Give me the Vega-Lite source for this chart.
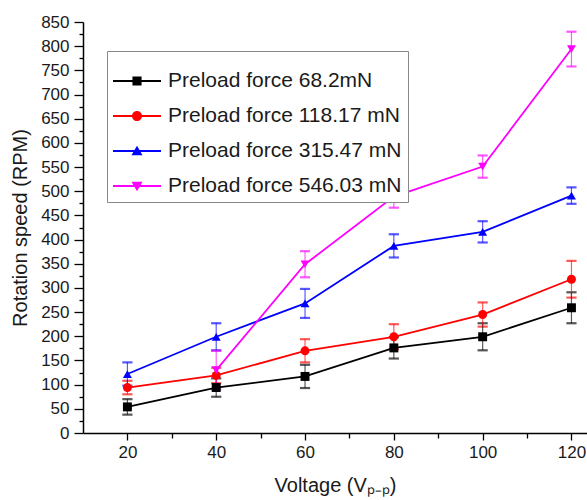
{
  "$schema": "https://vega.github.io/schema/vega-lite/v6.json",
  "autosize": {"type": "none"},
  "width": 504,
  "height": 411,
  "padding": {"left": 83, "top": 22, "right": 0, "bottom": 67},
  "background": "white",
  "config": {
    "font": "Liberation Sans",
    "view": {"stroke": null},
    "axis": {
      "domainColor": "#000000",
      "domainWidth": 1.5,
      "tickColor": "#000000",
      "tickWidth": 1.3,
      "grid": false,
      "labelFont": "Liberation Sans",
      "labelFontSize": 17,
      "labelColor": "#1a1a1a",
      "titleFont": "Liberation Sans",
      "titleFontSize": 20,
      "titleFontWeight": "normal",
      "titleColor": "#1a1a1a"
    }
  },
  "data": {
    "values": [
      {"voltage": 20, "force": "Preload force 68.2mN", "rpm": 54, "err": 16},
      {"voltage": 40, "force": "Preload force 68.2mN", "rpm": 94, "err": 19},
      {"voltage": 60, "force": "Preload force 68.2mN", "rpm": 117, "err": 24},
      {"voltage": 80, "force": "Preload force 68.2mN", "rpm": 176, "err": 22},
      {"voltage": 100, "force": "Preload force 68.2mN", "rpm": 199, "err": 28},
      {"voltage": 120, "force": "Preload force 68.2mN", "rpm": 259, "err": 32},
      {"voltage": 20, "force": "Preload force 118.17 mN", "rpm": 94, "err": 14},
      {"voltage": 40, "force": "Preload force 118.17 mN", "rpm": 119, "err": 16},
      {"voltage": 60, "force": "Preload force 118.17 mN", "rpm": 170, "err": 24},
      {"voltage": 80, "force": "Preload force 118.17 mN", "rpm": 199, "err": 26},
      {"voltage": 100, "force": "Preload force 118.17 mN", "rpm": 245, "err": 25},
      {"voltage": 120, "force": "Preload force 118.17 mN", "rpm": 318, "err": 38},
      {"voltage": 20, "force": "Preload force 315.47 mN", "rpm": 122, "err": 24},
      {"voltage": 40, "force": "Preload force 315.47 mN", "rpm": 199, "err": 28},
      {"voltage": 60, "force": "Preload force 315.47 mN", "rpm": 268, "err": 30},
      {"voltage": 80, "force": "Preload force 315.47 mN", "rpm": 387, "err": 24},
      {"voltage": 100, "force": "Preload force 315.47 mN", "rpm": 416, "err": 22},
      {"voltage": 120, "force": "Preload force 315.47 mN", "rpm": 491, "err": 17},
      {"voltage": 40, "force": "Preload force 546.03 mN", "rpm": 130, "err": 40},
      {"voltage": 60, "force": "Preload force 546.03 mN", "rpm": 349, "err": 27},
      {"voltage": 80, "force": "Preload force 546.03 mN", "rpm": 489, "err": 23},
      {"voltage": 100, "force": "Preload force 546.03 mN", "rpm": 551, "err": 23},
      {"voltage": 120, "force": "Preload force 546.03 mN", "rpm": 794, "err": 36}
    ]
  },
  "encoding": {
    "x": {
      "field": "voltage",
      "type": "quantitative",
      "scale": {"domain": [10, 123.5], "nice": false, "zero": false},
      "axis": {
        "title": "Voltage (Vₚ₋ₚ)",
        "values": [20, 30, 40, 50, 60, 70, 80, 90, 100, 110, 120],
        "labelExpr": "datum.value % 20 === 0 ? datum.label : ''",
        "tickSize": {"condition": {"test": "datum.value % 20 === 0", "value": 7}, "value": 5},
        "labelPadding": 4,
        "titlePadding": 15,
        "labelFlush": false
      }
    },
    "y": {
      "field": "rpm",
      "type": "quantitative",
      "scale": {"domain": [0, 850], "nice": false},
      "axis": {
        "title": "Rotation speed (RPM)",
        "values": [0, 25, 50, 75, 100, 125, 150, 175, 200, 225, 250, 275, 300, 325, 350, 375, 400, 425, 450, 475, 500, 525, 550, 575, 600, 625, 650, 675, 700, 725, 750, 775, 800, 825, 850],
        "labelExpr": "datum.value % 50 === 0 ? datum.label : ''",
        "tickSize": {"condition": {"test": "datum.value % 50 === 0", "value": 9}, "value": 4},
        "labelPadding": 5,
        "titlePadding": 10,
        "labelFlush": false
      }
    }
  },
  "layer": [
    {
      "mark": {
        "type": "errorbar",
        "ticks": {"size": 9, "opacity": 0.65, "strokeWidth": 1.2},
        "rule": {"opacity": 0.65, "strokeWidth": 1.2}
      },
      "encoding": {
        "yError": {"field": "err"},
        "stroke": {
          "field": "force",
          "type": "nominal",
          "scale": {
            "domain": ["Preload force 546.03 mN", "Preload force 315.47 mN", "Preload force 118.17 mN", "Preload force 68.2mN"],
            "range": ["#FF00FF", "#0000FF", "#FF0000", "#000000"]
          },
          "legend": null
        }
      }
    },
    {
      "mark": {"type": "line", "strokeWidth": 1.8},
      "encoding": {
        "stroke": {
          "field": "force",
          "type": "nominal",
          "scale": {
            "domain": ["Preload force 546.03 mN", "Preload force 315.47 mN", "Preload force 118.17 mN", "Preload force 68.2mN"],
            "range": ["#FF00FF", "#0000FF", "#FF0000", "#000000"]
          },
          "legend": null
        }
      }
    },
    {
      "mark": {"type": "point", "filled": true, "size": 80, "opacity": 1},
      "encoding": {
        "color": {
          "field": "force",
          "type": "nominal",
          "scale": {
            "domain": ["Preload force 68.2mN", "Preload force 118.17 mN", "Preload force 315.47 mN", "Preload force 546.03 mN"],
            "range": ["#000000", "#FF0000", "#0000FF", "#FF00FF"]
          },
          "legend": {
            "title": null,
            "orient": "none",
            "legendX": 24,
            "legendY": 29,
            "padding": 6,
            "strokeColor": "#888888",
            "fillColor": "white",
            "labelFont": "Liberation Sans",
            "labelFontSize": 21,
            "labelColor": "#1a1a1a",
            "labelLimit": 400,
            "symbolSize": 2304,
            "symbolStrokeWidth": 0,
            "symbolOpacity": 1,
            "labelOffset": 7,
            "rowPadding": 1,
            "encode": {
              "symbols": {
                "update": {
                  "shape": {"signal": "datum.value === 'Preload force 68.2mN' ? 'M-1,-0.04H1V0.04H-1Z M-0.19,-0.19H0.19V0.19H-0.19Z' : datum.value === 'Preload force 118.17 mN' ? 'M-1,-0.04H1V0.04H-1Z M-0.21,0A0.21,0.21,0,1,1,0.21,0A0.21,0.21,0,1,1,-0.21,0Z' : datum.value === 'Preload force 315.47 mN' ? 'M-1,-0.04H1V0.04H-1Z M0,-0.22L0.23,0.18L-0.23,0.18Z' : 'M-1,-0.04H1V0.04H-1Z M0,0.22L-0.23,-0.18L0.23,-0.18Z'"}
                }
              }
            }
          }
        },
        "shape": {
          "condition": [
            {"test": "datum.force === 'Preload force 68.2mN'", "value": "square"},
            {"test": "datum.force === 'Preload force 118.17 mN'", "value": "circle"},
            {"test": "datum.force === 'Preload force 315.47 mN'", "value": "triangle-up"}
          ],
          "value": "triangle-down"
        }
      }
    }
  ]
}
